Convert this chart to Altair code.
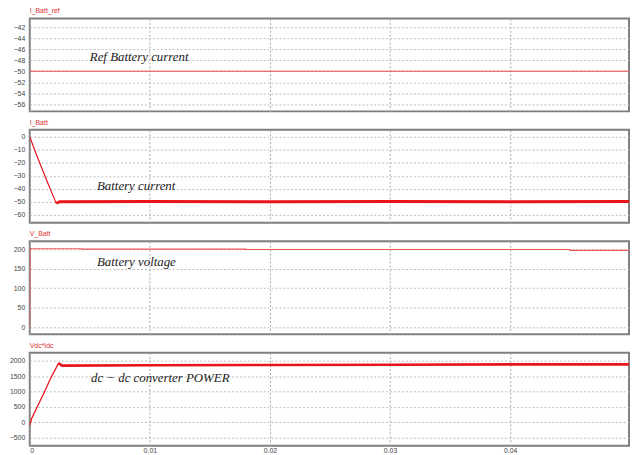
import altair as alt
import pandas as pd

# ---------------- data ----------------
# Panel 1: reference battery current
t_ref = [0.0, 0.0499]
i_ref = [-50, -50]

# Panel 2: battery current (ramp, then steady with ripple)
t_ib_ramp = [0.0, 0.0005, 0.0010, 0.0015, 0.0020, 0.0022]
i_ib_ramp = [0.0, -12.5, -24.0, -35.5, -46.5, -51.0]
t_ib_steady = [0.0022, 0.0025, 0.01, 0.02, 0.03, 0.04, 0.0499]
i_ib_steady = [-51.0, -49.8, -49.7, -49.8, -49.7, -49.8, -49.7]

# Panel 3: battery voltage
t_vb = [0.0, 0.00002, 0.0043, 0.0043, 0.018, 0.018, 0.045, 0.045, 0.0499]
v_vb = [0.0, 201.0, 201.0, 200.0, 200.0, 199.0, 199.0, 197.0, 197.0]

# Panel 4: dc-dc converter power
t_p_ramp = [0.0, 0.00015, 0.0012, 0.0017, 0.0024]
p_p_ramp = [-100, 120, 970, 1400, 1920]
t_p_steady = [0.0024, 0.0027, 0.01, 0.02, 0.03, 0.04, 0.0499]
p_p_steady = [1920, 1840, 1850, 1860, 1870, 1880, 1880]

# axis ticks
x_ticks = [0, 0.01, 0.02, 0.03, 0.04]
y1_ticks = [-42, -44, -46, -48, -50, -52, -54, -56]
y2_ticks = [0, -10, -20, -30, -40, -50, -60]
y3_ticks = [0, 50, 100, 150, 200]
y4_ticks = [-500, 0, 500, 1000, 1500, 2000]

# panel titles and annotations
titles = ["I_Batt_ref", "I_Batt", "V_Batt", "Vdc*Idc"]
notes = ["Ref Battery current", "Battery current", "Battery voltage",
         "dc \u2212 dc converter POWER"]
note_t = [0.0050, 0.0056, 0.0056, 0.0051]
note_y = [-47.4, -37.5, 167, 1423]
note_size = [13, 13, 13, 13]

# ---------------- chart ----------------
X_DOMAIN = [0, 0.0499]
W, H = 606, 94
RED = "#e8141c"


def xenc(show):
    return alt.X(
        "t:Q",
        scale=alt.Scale(domain=X_DOMAIN, nice=False, zero=False),
        axis=alt.Axis(values=x_ticks, labels=show, ticks=False, domain=False,
                      grid=True, title=None, format="~g", labelFontSize=7,
                      labelColor="#444", labelPadding=1, labelFont="Liberation Sans",
                      gridDash=[2, 2], gridColor="#a8a8a8", gridWidth=1),
    )


def yenc(domain, ticks):
    return alt.Y(
        "v:Q",
        scale=alt.Scale(domain=domain, nice=False, zero=False),
        axis=alt.Axis(values=ticks, ticks=False, domain=False, grid=True,
                      title=None, format="d", labelFontSize=7, labelColor="#444",
                      labelPadding=5, labelFont="Liberation Sans",
                      gridDash=[2, 2], gridColor="#bdbdbd", gridWidth=1),
    )


def line_df(ts, vs):
    return pd.DataFrame({"t": ts, "v": vs, "i": list(range(len(ts)))})


def panel(k, domain, ticks, series, show_x=False):
    layers = []
    for ts, vs, sw, col in series:
        layers.append(
            alt.Chart(line_df(ts, vs)).mark_line(strokeWidth=sw, color=col, clip=True).encode(
                x=xenc(show_x), y=yenc(domain, ticks), order="i:Q"
            )
        )
    ann = pd.DataFrame({"t": [note_t[k]], "v": [note_y[k]], "label": [notes[k]]})
    layers.append(
        alt.Chart(ann).mark_text(font="Liberation Serif", fontStyle="italic",
                                 fontSize=note_size[k], align="left", baseline="middle",
                                 color="#222").encode(
            x=xenc(show_x), y=yenc(domain, ticks), text="label:N"
        )
    )
    # panel title (red signal name above the frame)
    layers.append(
        alt.Chart(pd.DataFrame({"label": [titles[k]]})).mark_text(
            font="Liberation Sans", fontSize=7, color="#e03030",
            align="left", baseline="middle"
        ).encode(x=alt.value(0), y=alt.value(-7), text="label:N")
    )
    return alt.layer(*layers).properties(width=W, height=H)


p1 = panel(0, [-57.3, -40.4], y1_ticks, [(t_ref, i_ref, 1.0, "#ee4444")])
p2 = panel(1, [-66, 5.3], y2_ticks, [(t_ib_ramp, i_ib_ramp, 1.2, RED),
                                      (t_ib_steady, i_ib_steady, 3.0, RED)])
p3 = panel(2, [-17.5, 220], y3_ticks, [(t_vb, v_vb, 1.2, "#ee5555")])
p4 = panel(3, [-756, 2256], y4_ticks, [(t_p_ramp, p_p_ramp, 1.3, RED),
                                       (t_p_steady, p_p_steady, 2.6, RED)], show_x=True)

chart = alt.vconcat(p1, p2, p3, p4, spacing=18.7, bounds="flush").properties(
    padding={"top": -4, "left": 0, "right": 0, "bottom": 0}, background="white"
).configure_view(stroke="#7f7f7f", strokeWidth=2)

chart.save("out.html", embed_options={"renderer": "svg", "actions": False})
